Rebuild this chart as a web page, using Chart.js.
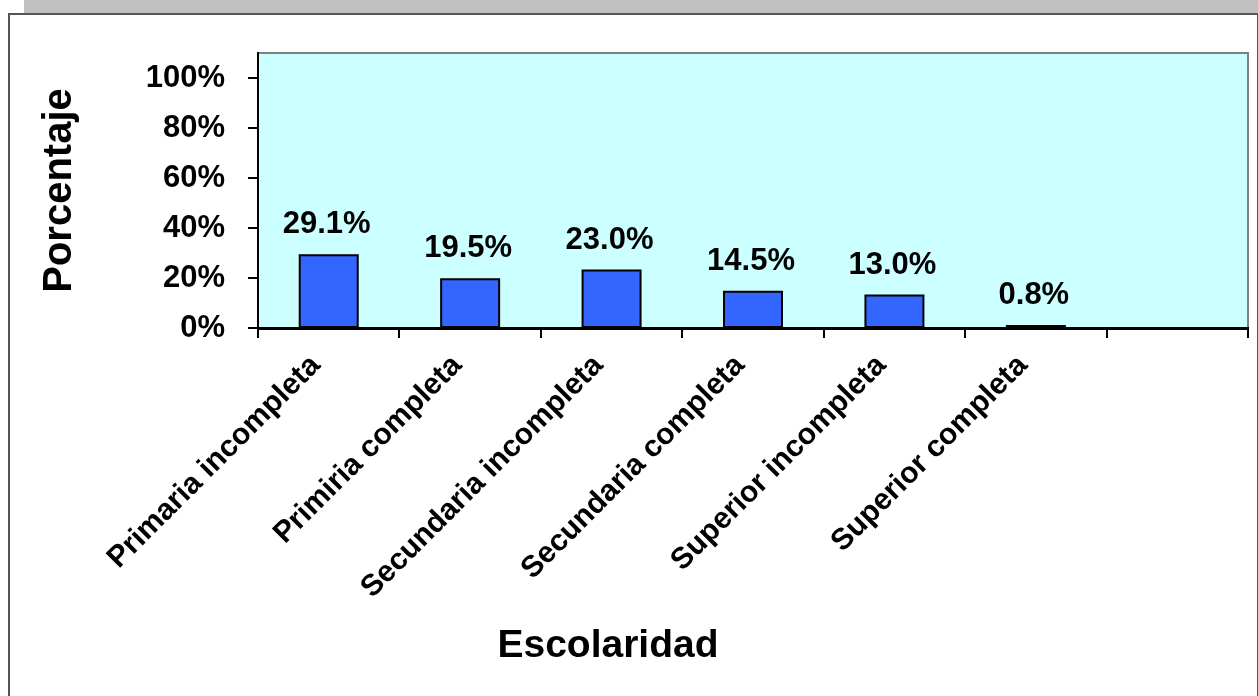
<!DOCTYPE html>
<html>
<head>
<meta charset="utf-8">
<script src="https://cdn.jsdelivr.net/npm/chart.js@4/dist/chart.umd.min.js"></script>
<style>
  html, body { margin: 0; padding: 0; background: #ffffff; width: 1258px; height: 696px; overflow: hidden; }
  #band { position: absolute; left: 24px; top: 0; width: 1234px; height: 13px; background: #c0c0c0; }
  #frame { position: absolute; left: 8px; top: 13px; width: 1247px; height: 700px; border-left: 2px solid #555; border-top: 2px solid #555; border-right: 2px solid #555; background: #fff; }
  #wrap { position: absolute; left: 0; top: 0; width: 1258px; height: 696px; }
</style>
</head>
<body>
<div id="band"></div>
<div id="frame"></div>
<div id="wrap"><canvas id="c" width="1258" height="696"></canvas></div>
<script>
const categories = ["Primaria incompleta", "Primiria completa", "Secundaria incompleta", "Secundaria completa", "Superior incompleta", "Superior completa", ""];
const values = [29.1, 19.5, 23.0, 14.5, 13.0, 0.8, null];
const yTicks = [0, 20, 40, 60, 80, 100];
const yMax = 110;
const xTitle = "Escolaridad";
const yTitle = "Porcentaje";

const FONT = "'Liberation Sans', Arial, sans-serif";

const bgPlugin = {
  id: 'plotBg',
  beforeDraw(chart) {
    const {ctx, chartArea: a} = chart;
    ctx.save();
    ctx.fillStyle = '#ccffff';
    ctx.fillRect(a.left, a.top, a.right - a.left, a.bottom - a.top);
    ctx.strokeStyle = '#808080';
    ctx.lineWidth = 2;
    ctx.beginPath();
    ctx.moveTo(a.left, a.top);
    ctx.lineTo(a.right, a.top);
    ctx.lineTo(a.right, a.bottom);
    ctx.stroke();
    ctx.restore();
  }
};

const labelPlugin = {
  id: 'valueLabels',
  afterDatasetsDraw(chart) {
    const {ctx} = chart;
    const meta = chart.getDatasetMeta(0);
    ctx.save();
    // bar outlines from the library's bar elements
    ctx.strokeStyle = '#000';
    ctx.lineWidth = 2;
    meta.data.forEach((bar, i) => {
      const v = values[i];
      if (v === null || v === undefined) return;
      const p = bar.getProps(['x', 'y', 'base', 'width'], true);
      ctx.strokeRect(p.x - p.width / 2, p.y, p.width, p.base - p.y);
    });
    ctx.font = "bold 31px " + FONT;
    ctx.fillStyle = '#000';
    ctx.textAlign = 'center';
    ctx.textBaseline = 'alphabetic';
    meta.data.forEach((bar, i) => {
      const v = values[i];
      if (v === null || v === undefined) return;
      ctx.fillText(v.toFixed(1) + '%', bar.x - 2, bar.y - 22);
    });
    ctx.restore();
  }
};

const xTitlePlugin = {
  id: 'xTitle',
  afterDraw(chart) {
    const {ctx} = chart;
    ctx.save();
    ctx.font = "bold 39px " + FONT;
    ctx.fillStyle = '#000';
    ctx.textAlign = 'center';
    ctx.textBaseline = 'middle';
    ctx.fillText(xTitle, 608, 646);
    ctx.restore();
  }
};

new Chart(document.getElementById('c'), {
  type: 'bar',
  data: {
    labels: categories,
    datasets: [{
      data: values,
      backgroundColor: '#3366ff',
      borderWidth: 0,
      categoryPercentage: 1,
      barPercentage: 0.41
    }]
  },
  options: {
    responsive: false,
    animation: false,
    events: [],
    layout: { padding: { top: 53, right: 10, left: 0, bottom: 0 } },
    plugins: { legend: { display: false }, tooltip: { enabled: false } },
    scales: {
      x: {
        grid: { display: true, drawOnChartArea: false, drawTicks: true, tickLength: 10, color: '#000', lineWidth: 2, offset: true },
        border: { display: true, color: '#000', width: 3 },
        ticks: {
          autoSkip: false, maxRotation: 45, minRotation: 45, color: '#000', padding: 10, labelOffset: -13,
          font: { family: FONT, size: 30, weight: 'bold' }
        },
        title: { display: false },
        afterFit(scale) { scale.height = 696 - 328; }
      },
      y: {
        min: 0, max: yMax,
        grid: { display: true, drawOnChartArea: false, drawTicks: true, tickLength: 10, color: '#000', lineWidth: 2 },
        border: { display: true, color: '#000', width: 2 },
        ticks: {
          stepSize: 20, color: '#000', padding: 23,
          font: { family: FONT, size: 31, weight: 'bold' },
          callback: (v) => v + '%'
        },
        afterBuildTicks(scale) {
          scale.ticks = yTicks.map(v => ({ value: v }));
        },
        title: {
          display: true, text: yTitle, color: '#000',
          font: { family: FONT, size: 40, weight: 'bold' },
          padding: { top: 36, bottom: 0 }
        },
        afterFit(scale) { scale.width = 258; }
      }
    }
  },
  plugins: [bgPlugin, labelPlugin, xTitlePlugin]
});
</script>
</body>
</html>
